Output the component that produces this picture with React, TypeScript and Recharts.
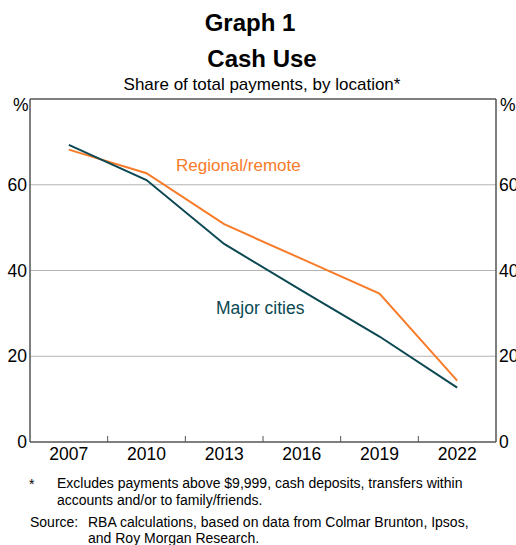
import React from "react";
import {
  LineChart,
  Line,
  XAxis,
  YAxis,
  CartesianGrid,
  ReferenceLine,
} from "recharts";

const years = [2007, 2010, 2013, 2016, 2019, 2022];
const majorCities = [69.3, 61.1, 46.2, 35.3, 24.6, 12.7];
const regionalRemote = [68.2, 62.7, 50.8, 42.7, 34.6, 14.3];
const yTicks = [0, 20, 40, 60];
const yearTicks = [2007, 2010, 2013, 2016, 2019, 2022];
const bandEdges = [2008.5, 2011.5, 2014.5, 2017.5, 2020.5];

const data = years.map((year, i) => ({
  year,
  major: majorCities[i],
  regional: regionalRemote[i],
}));

const FONT = "'Liberation Sans', Arial, sans-serif";
const ORANGE = "#F77B29";
const TEAL = "#0B4852";
const AXIS = "#555555";

const txt = (
  left: number,
  center: number,
  size: number,
  extra: React.CSSProperties = {}
): React.CSSProperties => ({
  position: "absolute",
  left,
  top: center - size * 0.6,
  height: size * 1.2,
  lineHeight: `${size * 1.2}px`,
  fontSize: size,
  whiteSpace: "nowrap",
  ...extra,
});

const App: React.FC = () => {
  return (
    <div
      style={{
        position: "absolute",
        left: 0,
        top: 0,
        width: 516,
        height: 545,
        background: "#fff",
        fontFamily: FONT,
        color: "#000",
        overflow: "hidden",
      }}
    >
      <div style={txt(0, 23, 24, { width: 500, textAlign: "center", fontWeight: "bold" })}>
        Graph 1
      </div>
      <div style={txt(0, 59, 24, { width: 524, textAlign: "center", fontWeight: "bold" })}>
        Cash Use
      </div>
      <div style={txt(0, 85, 17, { width: 524, textAlign: "center" })}>
        Share of total payments, by location*
      </div>

      <div style={{ position: "absolute", left: 0, top: 0 }}>
        <LineChart
          width={516}
          height={545}
          data={data}
          margin={{ top: 99, right: 0, left: 0, bottom: 74 }}
          style={{ fontFamily: FONT }}
        >
          <CartesianGrid
            vertical={false}
            stroke="#b4b4b4"
            yAxisId="l"
            xAxisId="lbl"
            horizontalValues={[20, 40, 60]}
          />
          <XAxis
            xAxisId="edges"
            type="number"
            dataKey="year"
            domain={[2005.5, 2023.5]}
            ticks={bandEdges}
            interval={0}
            height={1}
            mirror
            tickSize={6}
            tickLine={{ stroke: AXIS }}
            axisLine={{ stroke: AXIS, strokeWidth: 1.5 }}
            tickFormatter={() => ""}
          />
          <XAxis
            xAxisId="lbl"
            type="number"
            dataKey="year"
            domain={[2005.5, 2023.5]}
            ticks={yearTicks}
            interval={0}
            height={29}
            tickLine={false}
            axisLine={false}
            tickSize={0}
            tickMargin={6}
            tick={{ fill: "#000", fontSize: 17.5 }}
          />
          <YAxis
            yAxisId="l"
            orientation="left"
            domain={[0, 80]}
            ticks={yTicks}
            interval={0}
            width={30}
            tickLine={false}
            tickSize={0}
            tickMargin={3}
            axisLine={{ stroke: AXIS, strokeWidth: 1.5 }}
            tick={{ fill: "#000", fontSize: 17.5 }}
          />
          <YAxis
            yAxisId="r"
            orientation="right"
            domain={[0, 80]}
            ticks={yTicks}
            interval={0}
            width={20}
            tickLine={false}
            tickSize={0}
            tickMargin={3}
            axisLine={{ stroke: AXIS, strokeWidth: 1.5 }}
            tick={{ fill: "#000", fontSize: 17.5 }}
          />
          <ReferenceLine y={80} yAxisId="l" xAxisId="lbl" stroke={AXIS} strokeWidth={1.5} />
          <Line
            type="linear"
            dataKey="regional"
            xAxisId="lbl"
            yAxisId="r"
            stroke={ORANGE}
            strokeWidth={2}
            dot={false}
            isAnimationActive={false}
          />
          <Line
            type="linear"
            dataKey="major"
            xAxisId="lbl"
            yAxisId="l"
            stroke={TEAL}
            strokeWidth={2}
            dot={false}
            isAnimationActive={false}
          />
        </LineChart>
      </div>

      <div style={txt(13, 105, 17.5)}>%</div>
      <div style={txt(500, 105, 17.5)}>%</div>
      <div style={txt(176, 166, 17, { color: ORANGE })}>Regional/remote</div>
      <div style={txt(216, 308, 17.5, { color: TEAL })}>Major cities</div>

      <div style={txt(29, 484, 14)}>*</div>
      <div style={txt(57, 483, 14)}>
        Excludes payments above $9,999, cash deposits, transfers within
      </div>
      <div style={txt(57, 500, 14)}>accounts and/or to family/friends.</div>
      <div style={txt(30, 522, 14)}>Source:</div>
      <div style={txt(88, 522, 14)}>
        RBA calculations, based on data from Colmar Brunton, Ipsos,
      </div>
      <div style={txt(88, 538, 14)}>and Roy Morgan Research.</div>
    </div>
  );
};

export default App;
